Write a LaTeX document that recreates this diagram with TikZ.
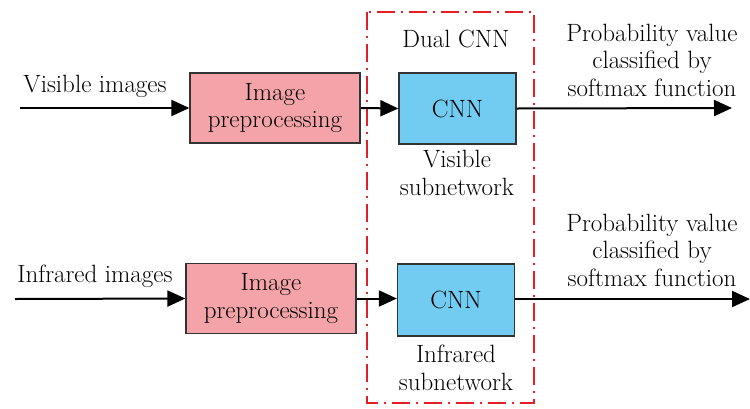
\documentclass[tikz,border=0pt]{standalone}
\usetikzlibrary{arrows.meta}
\definecolor{pinkfill}{RGB}{244,164,168}
\definecolor{bluefill}{RGB}{114,204,242}
\definecolor{dashred}{RGB}{228,30,38}
\begin{document}
\begin{tikzpicture}[x=1pt,y=-1pt,
  every node/.style={font=\rmfamily\fontsize{25}{27.5}\selectfont, align=center, inner sep=0pt},
  prebox/.style={draw=black!80, line width=1.3pt, fill=pinkfill, minimum width=170pt, minimum height=70pt},
  cnnbox/.style={draw=black!80, line width=1.3pt, fill=bluefill, minimum width=117pt, minimum height=71pt},
  flow/.style={line width=2pt, -{Triangle[length=18pt,width=16pt]}},
  txt/.style={}]
\useasboundingbox (0,0) rectangle (750,408);
% dual CNN frame
\draw[dashred, line width=1.8pt, dash pattern=on 18pt off 6pt on 2pt off 6pt] (367,12) rectangle (534,403);
% top row
\coordinate (vin) at (20,108);
\node[prebox] (pre1) at (275,108) {Image\\preprocessing};
\node[cnnbox] (cnn1) at (457.5,108.5) {CNN};
\coordinate (vout) at (732,108);
\node[txt] (vlab) at (95,86) {Visible images};
\node[txt] (dual) at (456,39) {Dual CNN};
\node[txt] (vsub) at (457,173) {Visible\\subnetwork};
\node[txt] (prob1) at (652,60) {Probability value\\classified by\\softmax function};
\draw[flow] (vin) -- (pre1.west);
\draw[flow] (pre1.east) -- (cnn1.west);
\draw[flow] (cnn1.east) -- (vout);
% bottom row
\coordinate (iin) at (15,299);
\node[prebox] (pre2) at (271,298.5) {Image\\preprocessing};
\node[cnnbox, minimum height=72pt] (cnn2) at (456,300) {CNN};
\coordinate (iout) at (750,299);
\node[txt] (ilab) at (95,276) {Infrared images};
\node[txt] (isub) at (456,368) {Infrared\\subnetwork};
\node[txt] (prob2) at (652,250) {Probability value\\classified by\\softmax function};
\draw[flow] (iin) -- (pre2.west);
\draw[flow] (pre2.east) -- (cnn2.west |- pre2.east);
\draw[flow] (cnn2.east |- iout) -- (iout);
\end{tikzpicture}
\end{document}
